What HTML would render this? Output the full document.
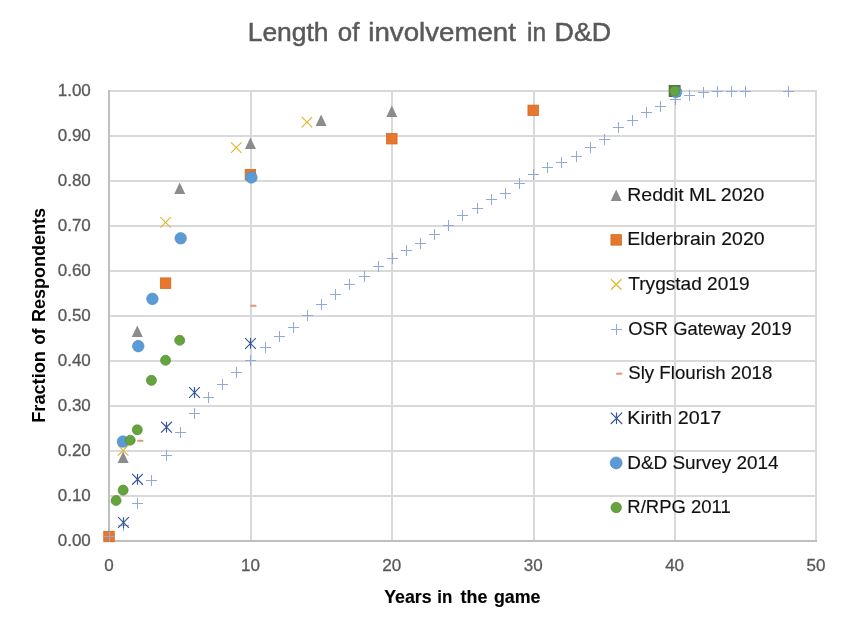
<!DOCTYPE html>
<html><head><meta charset="utf-8"><style>
html,body{margin:0;padding:0;background:#fff;overflow:hidden;width:866px;height:634px;}
svg{display:block;will-change:transform;font-family:"Liberation Sans",sans-serif;}
</style></head><body>
<svg width="866" height="634" viewBox="0 0 866 634">
<rect width="866" height="634" fill="#fff"/>
<rect x="108" y="495" width="709" height="2" fill="#d9d9d9"/>
<rect x="108" y="450" width="709" height="2" fill="#d9d9d9"/>
<rect x="108" y="405" width="709" height="2" fill="#d9d9d9"/>
<rect x="108" y="360" width="709" height="2" fill="#d9d9d9"/>
<rect x="108" y="315" width="709" height="2" fill="#d9d9d9"/>
<rect x="108" y="270" width="709" height="2" fill="#d9d9d9"/>
<rect x="108" y="225" width="709" height="2" fill="#d9d9d9"/>
<rect x="108" y="180" width="709" height="2" fill="#d9d9d9"/>
<rect x="108" y="135" width="709" height="2" fill="#d9d9d9"/>
<rect x="108" y="90" width="709" height="2" fill="#d9d9d9"/>
<rect x="250" y="90" width="2" height="452" fill="#d9d9d9"/>
<rect x="391" y="90" width="2" height="452" fill="#d9d9d9"/>
<rect x="533" y="90" width="2" height="452" fill="#d9d9d9"/>
<rect x="674" y="90" width="2" height="452" fill="#d9d9d9"/>
<rect x="815" y="90" width="2" height="452" fill="#d9d9d9"/>
<rect x="108" y="90" width="2" height="452" fill="#bfbfbf"/>
<rect x="108" y="540" width="709" height="2" fill="#bfbfbf"/>
<text x="247.71" y="41.0" font-size="26.5" fill="#595959" stroke="#595959" stroke-width="0.5" textLength="80.83" lengthAdjust="spacingAndGlyphs">Length</text>
<text x="337.82" y="41.0" font-size="26.5" fill="#595959" stroke="#595959" stroke-width="0.5" textLength="21.55" lengthAdjust="spacingAndGlyphs">of</text>
<text x="368.26" y="41.0" font-size="26.5" fill="#595959" stroke="#595959" stroke-width="0.5" textLength="147.68" lengthAdjust="spacingAndGlyphs">involvement</text>
<text x="527.07" y="41.0" font-size="26.5" fill="#595959" stroke="#595959" stroke-width="0.5" textLength="19.11" lengthAdjust="spacingAndGlyphs">in</text>
<text x="554.58" y="41.0" font-size="26.5" fill="#595959" stroke="#595959" stroke-width="0.5" textLength="56.57" lengthAdjust="spacingAndGlyphs">D&amp;D</text>
<text x="384.20" y="602.6" font-size="18.6" font-weight="bold" fill="#000000" stroke="#000000" stroke-width="0.15" textLength="47.43" lengthAdjust="spacingAndGlyphs">Years</text>
<text x="437.29" y="602.6" font-size="18.6" font-weight="bold" fill="#000000" stroke="#000000" stroke-width="0.15" textLength="15.04" lengthAdjust="spacingAndGlyphs">in</text>
<text x="460.50" y="602.6" font-size="18.6" font-weight="bold" fill="#000000" stroke="#000000" stroke-width="0.15" textLength="26.83" lengthAdjust="spacingAndGlyphs">the</text>
<text x="493.90" y="602.6" font-size="18.6" font-weight="bold" fill="#000000" stroke="#000000" stroke-width="0.15" textLength="46.43" lengthAdjust="spacingAndGlyphs">game</text>
<text transform="translate(45.0,422.78) rotate(-90)" x="0" y="0" font-size="18.6" font-weight="bold" fill="#000000" textLength="71.73" lengthAdjust="spacingAndGlyphs">Fraction</text>
<text transform="translate(45.0,344.70) rotate(-90)" x="0" y="0" font-size="18.6" font-weight="bold" fill="#000000" textLength="16.25" lengthAdjust="spacingAndGlyphs">of</text>
<text transform="translate(45.0,321.97) rotate(-90)" x="0" y="0" font-size="18.6" font-weight="bold" fill="#000000" textLength="114.10" lengthAdjust="spacingAndGlyphs">Respondents</text>
<text x="627.26" y="200.8" font-size="18.6" fill="#111111" stroke="#111111" stroke-width="0.15" textLength="137.00" lengthAdjust="spacingAndGlyphs">Reddit ML 2020</text>
<text x="627.25" y="245.47000000000003" font-size="18.6" fill="#111111" stroke="#111111" stroke-width="0.15" textLength="137.30" lengthAdjust="spacingAndGlyphs">Elderbrain 2020</text>
<text x="628.30" y="290.14" font-size="18.6" fill="#111111" stroke="#111111" stroke-width="0.15" textLength="121.25" lengthAdjust="spacingAndGlyphs">Trygstad 2019</text>
<text x="628.30" y="334.81" font-size="18.6" fill="#111111" stroke="#111111" stroke-width="0.15" textLength="163.34" lengthAdjust="spacingAndGlyphs">OSR Gateway 2019</text>
<text x="628.30" y="379.48" font-size="18.6" fill="#111111" stroke="#111111" stroke-width="0.15" textLength="144.04" lengthAdjust="spacingAndGlyphs">Sly Flourish 2018</text>
<text x="627.24" y="424.15000000000003" font-size="18.6" fill="#111111" stroke="#111111" stroke-width="0.15" textLength="94.32" lengthAdjust="spacingAndGlyphs">Kirith 2017</text>
<text x="627.28" y="468.82" font-size="18.6" fill="#111111" stroke="#111111" stroke-width="0.15" textLength="151.36" lengthAdjust="spacingAndGlyphs">D&amp;D Survey 2014</text>
<text x="627.30" y="513.49" font-size="18.6" fill="#111111" stroke="#111111" stroke-width="0.15" textLength="103.53" lengthAdjust="spacingAndGlyphs">R/RPG 2011</text>
<text x="90.8" y="546.0" text-anchor="end" font-size="17" fill="#595959" stroke="#595959" stroke-width="0.3">0.00</text>
<text x="90.8" y="501.0" text-anchor="end" font-size="17" fill="#595959" stroke="#595959" stroke-width="0.3">0.10</text>
<text x="90.8" y="456.0" text-anchor="end" font-size="17" fill="#595959" stroke="#595959" stroke-width="0.3">0.20</text>
<text x="90.8" y="411.0" text-anchor="end" font-size="17" fill="#595959" stroke="#595959" stroke-width="0.3">0.30</text>
<text x="90.8" y="366.0" text-anchor="end" font-size="17" fill="#595959" stroke="#595959" stroke-width="0.3">0.40</text>
<text x="90.8" y="321.0" text-anchor="end" font-size="17" fill="#595959" stroke="#595959" stroke-width="0.3">0.50</text>
<text x="90.8" y="276.0" text-anchor="end" font-size="17" fill="#595959" stroke="#595959" stroke-width="0.3">0.60</text>
<text x="90.8" y="231.0" text-anchor="end" font-size="17" fill="#595959" stroke="#595959" stroke-width="0.3">0.70</text>
<text x="90.8" y="186.0" text-anchor="end" font-size="17" fill="#595959" stroke="#595959" stroke-width="0.3">0.80</text>
<text x="90.8" y="141.0" text-anchor="end" font-size="17" fill="#595959" stroke="#595959" stroke-width="0.3">0.90</text>
<text x="90.8" y="96.0" text-anchor="end" font-size="17" fill="#595959" stroke="#595959" stroke-width="0.3">1.00</text>
<text x="109.0" y="571" text-anchor="middle" font-size="17" fill="#595959" stroke="#595959" stroke-width="0.3">0</text>
<text x="250.4" y="571" text-anchor="middle" font-size="17" fill="#595959" stroke="#595959" stroke-width="0.3">10</text>
<text x="391.8" y="571" text-anchor="middle" font-size="17" fill="#595959" stroke="#595959" stroke-width="0.3">20</text>
<text x="533.2" y="571" text-anchor="middle" font-size="17" fill="#595959" stroke="#595959" stroke-width="0.3">30</text>
<text x="674.6" y="571" text-anchor="middle" font-size="17" fill="#595959" stroke="#595959" stroke-width="0.3">40</text>
<text x="816.0" y="571" text-anchor="middle" font-size="17" fill="#595959" stroke="#595959" stroke-width="0.3">50</text>
<polygon points="117.64,463.00 128.64,463.00 123.14,451.60" fill="#8c8c8c"/>
<polygon points="131.78,337.00 142.78,337.00 137.28,325.60" fill="#8c8c8c"/>
<polygon points="174.20,193.90 185.20,193.90 179.70,182.50" fill="#8c8c8c"/>
<polygon points="244.90,148.90 255.90,148.90 250.40,137.50" fill="#8c8c8c"/>
<polygon points="315.60,125.95 326.60,125.95 321.10,114.55" fill="#8c8c8c"/>
<polygon points="386.30,116.95 397.30,116.95 391.80,105.55" fill="#8c8c8c"/>
<polygon points="669.10,96.70 680.10,96.70 674.60,85.30" fill="#8c8c8c"/>
<rect x="103.75" y="531.25" width="10.5" height="10.5" fill="#e8772e" stroke="#d0641f" stroke-width="0.75"/>
<rect x="160.31" y="277.90" width="10.5" height="10.5" fill="#e8772e" stroke="#d0641f" stroke-width="0.75"/>
<rect x="245.15" y="169.45" width="10.5" height="10.5" fill="#e8772e" stroke="#d0641f" stroke-width="0.75"/>
<rect x="386.55" y="133.45" width="10.5" height="10.5" fill="#e8772e" stroke="#d0641f" stroke-width="0.75"/>
<rect x="527.95" y="105.10" width="10.5" height="10.5" fill="#e8772e" stroke="#d0641f" stroke-width="0.75"/>
<rect x="669.10" y="85.50" width="11" height="11" fill="#5a7a35" stroke="#44592a" stroke-width="0.75"/>
<path d="M117.89,445.03L128.39,455.53M128.39,445.03L117.89,455.53" stroke="#e0b52c" stroke-width="1.1" fill="none"/>
<path d="M160.31,217.15L170.81,227.65M170.81,217.15L160.31,227.65" stroke="#e0b52c" stroke-width="1.1" fill="none"/>
<path d="M231.01,142.45L241.51,152.95M241.51,142.45L231.01,152.95" stroke="#e0b52c" stroke-width="1.1" fill="none"/>
<path d="M301.71,116.80L312.21,127.30M312.21,116.80L301.71,127.30" stroke="#e0b52c" stroke-width="1.1" fill="none"/>
<path d="M104.00,536.50H115.00M109.50,531.00V542.00" stroke="#8fa9d8" stroke-width="1.0" fill="none"/>
<path d="M118.00,525.50H129.00M123.50,520.00V531.00" stroke="#8fa9d8" stroke-width="1.0" fill="none"/>
<path d="M132.00,503.50H143.00M137.50,498.00V509.00" stroke="#8fa9d8" stroke-width="1.0" fill="none"/>
<path d="M146.00,480.50H157.00M151.50,475.00V486.00" stroke="#8fa9d8" stroke-width="1.0" fill="none"/>
<path d="M161.00,455.50H172.00M166.50,450.00V461.00" stroke="#8fa9d8" stroke-width="1.0" fill="none"/>
<path d="M175.00,432.50H186.00M180.50,427.00V438.00" stroke="#8fa9d8" stroke-width="1.0" fill="none"/>
<path d="M189.00,413.50H200.00M194.50,408.00V419.00" stroke="#8fa9d8" stroke-width="1.0" fill="none"/>
<path d="M203.00,397.50H214.00M208.50,392.00V403.00" stroke="#8fa9d8" stroke-width="1.0" fill="none"/>
<path d="M217.00,384.50H228.00M222.50,379.00V390.00" stroke="#8fa9d8" stroke-width="1.0" fill="none"/>
<path d="M231.00,372.50H242.00M236.50,367.00V378.00" stroke="#8fa9d8" stroke-width="1.0" fill="none"/>
<path d="M245.00,360.50H256.00M250.50,355.00V366.00" stroke="#8fa9d8" stroke-width="1.0" fill="none"/>
<path d="M260.00,347.50H271.00M265.50,342.00V353.00" stroke="#8fa9d8" stroke-width="1.0" fill="none"/>
<path d="M274.00,336.50H285.00M279.50,331.00V342.00" stroke="#8fa9d8" stroke-width="1.0" fill="none"/>
<path d="M288.00,327.50H299.00M293.50,322.00V333.00" stroke="#8fa9d8" stroke-width="1.0" fill="none"/>
<path d="M302.00,315.50H313.00M307.50,310.00V321.00" stroke="#8fa9d8" stroke-width="1.0" fill="none"/>
<path d="M316.00,304.50H327.00M321.50,299.00V310.00" stroke="#8fa9d8" stroke-width="1.0" fill="none"/>
<path d="M330.00,294.50H341.00M335.50,289.00V300.00" stroke="#8fa9d8" stroke-width="1.0" fill="none"/>
<path d="M344.00,284.50H355.00M349.50,279.00V290.00" stroke="#8fa9d8" stroke-width="1.0" fill="none"/>
<path d="M359.00,276.50H370.00M364.50,271.00V282.00" stroke="#8fa9d8" stroke-width="1.0" fill="none"/>
<path d="M373.00,266.50H384.00M378.50,261.00V272.00" stroke="#8fa9d8" stroke-width="1.0" fill="none"/>
<path d="M387.00,258.50H398.00M392.50,253.00V264.00" stroke="#8fa9d8" stroke-width="1.0" fill="none"/>
<path d="M401.00,250.50H412.00M406.50,245.00V256.00" stroke="#8fa9d8" stroke-width="1.0" fill="none"/>
<path d="M415.00,243.50H426.00M420.50,238.00V249.00" stroke="#8fa9d8" stroke-width="1.0" fill="none"/>
<path d="M429.00,234.50H440.00M434.50,229.00V240.00" stroke="#8fa9d8" stroke-width="1.0" fill="none"/>
<path d="M443.00,225.50H454.00M448.50,220.00V231.00" stroke="#8fa9d8" stroke-width="1.0" fill="none"/>
<path d="M457.00,215.50H468.00M462.50,210.00V221.00" stroke="#8fa9d8" stroke-width="1.0" fill="none"/>
<path d="M472.00,208.50H483.00M477.50,203.00V214.00" stroke="#8fa9d8" stroke-width="1.0" fill="none"/>
<path d="M486.00,199.50H497.00M491.50,194.00V205.00" stroke="#8fa9d8" stroke-width="1.0" fill="none"/>
<path d="M500.00,193.50H511.00M505.50,188.00V199.00" stroke="#8fa9d8" stroke-width="1.0" fill="none"/>
<path d="M514.00,183.50H525.00M519.50,178.00V189.00" stroke="#8fa9d8" stroke-width="1.0" fill="none"/>
<path d="M528.00,174.50H539.00M533.50,169.00V180.00" stroke="#8fa9d8" stroke-width="1.0" fill="none"/>
<path d="M542.00,167.50H553.00M547.50,162.00V173.00" stroke="#8fa9d8" stroke-width="1.0" fill="none"/>
<path d="M556.00,162.50H567.00M561.50,157.00V168.00" stroke="#8fa9d8" stroke-width="1.0" fill="none"/>
<path d="M571.00,156.50H582.00M576.50,151.00V162.00" stroke="#8fa9d8" stroke-width="1.0" fill="none"/>
<path d="M585.00,147.50H596.00M590.50,142.00V153.00" stroke="#8fa9d8" stroke-width="1.0" fill="none"/>
<path d="M599.00,139.50H610.00M604.50,134.00V145.00" stroke="#8fa9d8" stroke-width="1.0" fill="none"/>
<path d="M613.00,127.50H624.00M618.50,122.00V133.00" stroke="#8fa9d8" stroke-width="1.0" fill="none"/>
<path d="M627.00,120.50H638.00M632.50,115.00V126.00" stroke="#8fa9d8" stroke-width="1.0" fill="none"/>
<path d="M641.00,112.50H652.00M646.50,107.00V118.00" stroke="#8fa9d8" stroke-width="1.0" fill="none"/>
<path d="M655.00,106.50H666.00M660.50,101.00V112.00" stroke="#8fa9d8" stroke-width="1.0" fill="none"/>
<path d="M670.00,99.50H681.00M675.50,94.00V105.00" stroke="#8fa9d8" stroke-width="1.0" fill="none"/>
<path d="M684.00,95.50H695.00M689.50,90.00V101.00" stroke="#8fa9d8" stroke-width="1.0" fill="none"/>
<path d="M698.00,92.50H709.00M703.50,87.00V98.00" stroke="#8fa9d8" stroke-width="1.0" fill="none"/>
<path d="M712.00,91.50H723.00M717.50,86.00V97.00" stroke="#8fa9d8" stroke-width="1.0" fill="none"/>
<path d="M726.00,91.50H737.00M731.50,86.00V97.00" stroke="#8fa9d8" stroke-width="1.0" fill="none"/>
<path d="M740.00,91.50H751.00M745.50,86.00V97.00" stroke="#8fa9d8" stroke-width="1.0" fill="none"/>
<path d="M783.00,91.50H794.00M788.50,86.00V97.00" stroke="#8fa9d8" stroke-width="1.0" fill="none"/>
<rect x="137.28" y="439.78" width="6" height="2" fill="#e4937a"/>
<rect x="250.40" y="304.78" width="6" height="2" fill="#e4937a"/>
<path d="M118.10,517.15L128.90,527.95M128.90,517.15L118.10,527.95M123.50,517.15V527.95" stroke="#34569a" stroke-width="1.15" fill="none"/>
<path d="M132.10,473.95L142.90,484.75M142.90,473.95L132.10,484.75M137.50,473.95V484.75" stroke="#34569a" stroke-width="1.15" fill="none"/>
<path d="M161.10,421.75L171.90,432.55M171.90,421.75L161.10,432.55M166.50,421.75V432.55" stroke="#34569a" stroke-width="1.15" fill="none"/>
<path d="M189.10,387.10L199.90,397.90M199.90,387.10L189.10,397.90M194.50,387.10V397.90" stroke="#34569a" stroke-width="1.15" fill="none"/>
<path d="M245.10,338.05L255.90,348.85M255.90,338.05L245.10,348.85M250.50,338.05V348.85" stroke="#34569a" stroke-width="1.15" fill="none"/>
<circle cx="122.93" cy="441.55" r="5.8" fill="#5b9bd5" stroke="#4f8ac4" stroke-width="0.6"/>
<circle cx="138.27" cy="346.15" r="5.8" fill="#5b9bd5" stroke="#4f8ac4" stroke-width="0.6"/>
<circle cx="152.41" cy="298.90" r="5.8" fill="#5b9bd5" stroke="#4f8ac4" stroke-width="0.6"/>
<circle cx="180.69" cy="238.29" r="5.8" fill="#5b9bd5" stroke="#4f8ac4" stroke-width="0.6"/>
<circle cx="251.39" cy="177.40" r="5.8" fill="#5b9bd5" stroke="#4f8ac4" stroke-width="0.6"/>
<circle cx="676.01" cy="91.90" r="5.8" fill="#5b9bd5" stroke="#4f8ac4" stroke-width="0.6"/>
<circle cx="116.07" cy="500.50" r="5.05" fill="#65a33e" stroke="#4f8530" stroke-width="0.6"/>
<circle cx="123.14" cy="490.15" r="5.05" fill="#65a33e" stroke="#4f8530" stroke-width="0.6"/>
<circle cx="130.21" cy="440.20" r="5.05" fill="#65a33e" stroke="#4f8530" stroke-width="0.6"/>
<circle cx="137.28" cy="429.85" r="5.05" fill="#65a33e" stroke="#4f8530" stroke-width="0.6"/>
<circle cx="151.42" cy="380.35" r="5.05" fill="#65a33e" stroke="#4f8530" stroke-width="0.6"/>
<circle cx="165.56" cy="360.28" r="5.05" fill="#65a33e" stroke="#4f8530" stroke-width="0.6"/>
<circle cx="179.70" cy="340.30" r="5.05" fill="#65a33e" stroke="#4f8530" stroke-width="0.6"/>
<circle cx="674.60" cy="91.00" r="5.05" fill="#65a33e" stroke="#4f8530" stroke-width="0.6"/>
<polygon points="610.70,201.00 621.70,201.00 616.20,189.60" fill="#8c8c8c"/>
<rect x="610.95" y="234.65" width="10.5" height="10.5" fill="#e8772e" stroke="#d0641f" stroke-width="0.75"/>
<path d="M610.95,279.25L621.45,289.75M621.45,279.25L610.95,289.75" stroke="#e0b52c" stroke-width="1.1" fill="none"/>
<path d="M611.00,329.50H622.00M616.50,324.00V335.00" stroke="#8fa9d8" stroke-width="1.0" fill="none"/>
<rect x="616.20" y="372.70" width="6" height="2" fill="#e4937a"/>
<path d="M610.80,412.60L622.20,424.00M622.20,412.60L610.80,424.00M616.50,412.60V424.00" stroke="#34569a" stroke-width="1.15" fill="none"/>
<circle cx="616.20" cy="462.90" r="6.0" fill="#5b9bd5" stroke="#4f8ac4" stroke-width="0.6"/>
<circle cx="616.20" cy="507.50" r="5.25" fill="#65a33e" stroke="#4f8530" stroke-width="0.6"/>
</svg>
</body></html>
